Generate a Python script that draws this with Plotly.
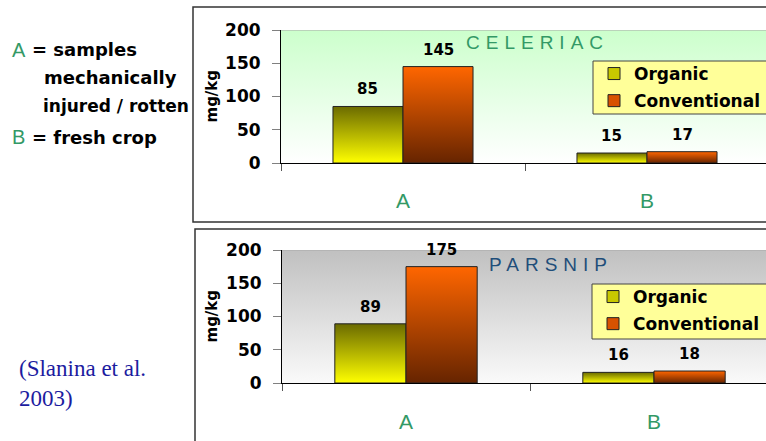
import plotly.graph_objects as go

# ---------------- data ----------------
categories = ["A", "B"]
series_names = ["Organic", "Conventional"]
celeriac_organic = [85, 15]
celeriac_conventional = [145, 17]
parsnip_organic = [89, 16]
parsnip_conventional = [175, 18]
y_ticks = [0, 50, 100, 150, 200]
panel_titles = ["CELERIAC", "PARSNIP"]
y_label = "mg/kg"

# ---------------- styling / geometry ----------------
W, H = 766, 441


def fx(p):
    return p / W


def fy(p):
    return 1 - p / H


BAR_W = 0.287
GRAD = {"Organic": ("#FFFF00", "#6B6B00"), "Conventional": ("#662400", "#FF6600")}  # bottom, top
LEG_COL = {"Organic": "#C8C800", "Conventional": "#D85200"}
OFFS = {"Organic": -BAR_W, "Conventional": 0.0}
BOLD = dict(family="DejaVu Sans", weight="bold", color="black")

panels = [
    dict(title=panel_titles[0], vals={"Organic": celeriac_organic, "Conventional": celeriac_conventional},
         x0=281, unit=244, ytop=30, ybot=163, bg=("#FFFFFF", "#CCFFCC"),
         tcolor="#339966", txy=(537, 42), leg=(593, 61, 114), box=(193, 7, 222), lab_y=200,
         xa="x", ya="y", legend="legend"),
    dict(title=panel_titles[1], vals={"Organic": parsnip_organic, "Conventional": parsnip_conventional},
         x0=282, unit=248, ytop=250, ybot=383, bg=("#FAFAFA", "#C0C0C0"),
         tcolor="#1F4E7A", txy=(551, 264), leg=(592, 284, 339), box=(195, 229, 470), lab_y=421,
         xa="x2", ya="y2", legend="legend2"),
]

fig = go.Figure()
shapes = []
annotations = []
layout_axes = {}

for k, p in enumerate(panels):
    xa, ya = p["xa"], p["ya"]
    xmax = -0.5 + (W - p["x0"]) / p["unit"]
    ymax = y_ticks[-1]

    # gradient plot background
    fig.add_trace(go.Scatter(
        x=[-0.5, xmax, xmax, -0.5, -0.5], y=[0, 0, ymax, ymax, 0],
        mode="none", fill="toself",
        fillgradient=dict(type="vertical", colorscale=[[0, p["bg"][0]], [1, p["bg"][1]]]),
        hoverinfo="skip", showlegend=False, xaxis=xa, yaxis=ya))

    # bars (library bars, for structure + legend)
    for s in series_names:
        fig.add_trace(go.Bar(
            x=list(range(len(categories))), y=p["vals"][s], name=s,
            width=BAR_W, offset=OFFS[s], legendgroup=s,
            marker=dict(color=LEG_COL[s], line=dict(color="#222222", width=1)),
            legend=p["legend"], xaxis=xa, yaxis=ya, hoverinfo="skip"))

    # gradient overlay on each bar
    for s in series_names:
        for i, v in enumerate(p["vals"][s]):
            xl = i + OFFS[s]
            xr = xl + BAR_W
            fig.add_trace(go.Scatter(
                x=[xl, xr, xr, xl, xl], y=[0, 0, v, v, 0],
                mode="lines", fill="toself", line=dict(color="#222222", width=1),
                fillgradient=dict(type="vertical", colorscale=[[0, GRAD[s][0]], [1, GRAD[s][1]]]),
                hoverinfo="skip", showlegend=False, xaxis=xa, yaxis=ya))
            annotations.append(dict(
                x=xl + BAR_W / 2, y=v, xref=xa, yref=ya, text=str(v), showarrow=False,
                yanchor="bottom", yshift=6, font=dict(size=15, **BOLD)))

    # category labels
    for i, c in enumerate(categories):
        annotations.append(dict(
            x=i, y=-(p["lab_y"] - p["ybot"]) / (p["ybot"] - p["ytop"]),
            xref=xa, yref=ya + " domain", text=c, showarrow=False, yanchor="middle",
            font=dict(family="Liberation Sans, Arial", size=21, color="#339966")))

    # panel title
    annotations.append(dict(
        x=fx(p["txy"][0]), y=fy(p["txy"][1]), xref="paper", yref="paper",
        text="<span style='letter-spacing:6px'>" + p["title"] + "</span>",
        showarrow=False, xanchor="center", yanchor="middle",
        font=dict(family="Liberation Sans, Arial", size=19, color=p["tcolor"])))

    # y-axis title
    annotations.append(dict(
        x=fx(211), y=fy((p["ytop"] + p["ybot"]) / 2), xref="paper", yref="paper",
        text=y_label, textangle=-90, showarrow=False, xanchor="center", yanchor="middle",
        font=dict(size=15, **BOLD)))

    # top border of plot area
    shapes.append(dict(type="line", xref=xa, yref=ya, x0=-0.5, x1=xmax, y0=ymax, y1=ymax,
                       line=dict(color="#A8A8A8", width=1)))
    # panel frame
    bx0, by0, by1 = p["box"]
    shapes.append(dict(type="rect", xref="paper", yref="paper",
                       x0=fx(bx0), x1=1.05, y0=fy(by1), y1=fy(by0),
                       line=dict(color="#333333", width=1.5), fillcolor="rgba(0,0,0,0)"))
    # legend box
    lx, ly0, ly1 = p["leg"]
    shapes.append(dict(type="rect", xref="paper", yref="paper", layer="above",
                       x0=fx(lx), x1=1.05, y0=fy(ly1), y1=fy(ly0),
                       line=dict(color="#444444", width=1), fillcolor="#FFFF99"))

    xkey = "xaxis" if k == 0 else "xaxis2"
    ykey = "yaxis" if k == 0 else "yaxis2"
    layout_axes[xkey] = dict(
        domain=[fx(p["x0"]), 1], range=[-0.5, xmax], anchor=ya,
        tickvals=[-0.5, 0.5], ticks="outside", ticklen=7, tickcolor="#555555",
        showticklabels=False, showline=True, linecolor="black", linewidth=1,
        showgrid=False, zeroline=False, fixedrange=True)
    layout_axes[ykey] = dict(
        domain=[fy(p["ybot"]), fy(p["ytop"])], range=[0, ymax], anchor=xa,
        tickvals=y_ticks, ticks="outside", ticklen=8, tickcolor="#808080",
        ticklabelstandoff=8,
        tickfont=dict(size=17, **BOLD),
        showline=True, linecolor="black", linewidth=1,
        showgrid=False, zeroline=False, fixedrange=True)

    layout_axes[p["legend"]] = dict(
        x=fx(lx + 1), y=fy(ly0 - 5), xanchor="left", yanchor="top",
        bgcolor="rgba(0,0,0,0)", borderwidth=0, tracegroupgap=2,
        font=dict(size=17, **BOLD), traceorder="grouped")

# left-side text
SERIF = dict(family="Liberation Serif, Times New Roman", size=23, color="#1C1CA0")
annotations += [
    dict(x=fx(10), y=fy(50), text="A", font=dict(family="Liberation Sans, Arial", size=20, color="#339966")),
    dict(x=fx(30), y=fy(50), text="= samples", font=dict(size=18, **BOLD)),
    dict(x=fx(42), y=fy(78), text="mechanically", font=dict(size=18, **BOLD)),
    dict(x=fx(41), y=fy(106), text="injured / rotten", font=dict(size=17, **BOLD)),
    dict(x=fx(10), y=fy(137), text="B", font=dict(family="Liberation Sans, Arial", size=20, color="#339966")),
    dict(x=fx(30), y=fy(137), text="= fresh crop", font=dict(size=18, **BOLD)),
    dict(x=fx(17), y=fy(368), text="(Slanina et al.", font=SERIF),
    dict(x=fx(17), y=fy(398), text="2003)", font=SERIF),
]
for a in annotations[-8:]:
    a.update(xref="paper", yref="paper", showarrow=False, xanchor="left", yanchor="middle")

fig.update_layout(
    width=W, height=H, margin=dict(l=0, r=0, t=0, b=0, autoexpand=False),
    paper_bgcolor="white", plot_bgcolor="rgba(0,0,0,0)",
    barmode="overlay", hovermode=False, showlegend=True,
    shapes=shapes, annotations=annotations, **layout_axes)

fig.write_html("out.html", config={"displayModeBar": False},
               post_script="document.body.style.margin='0';document.body.style.overflow='hidden';")
